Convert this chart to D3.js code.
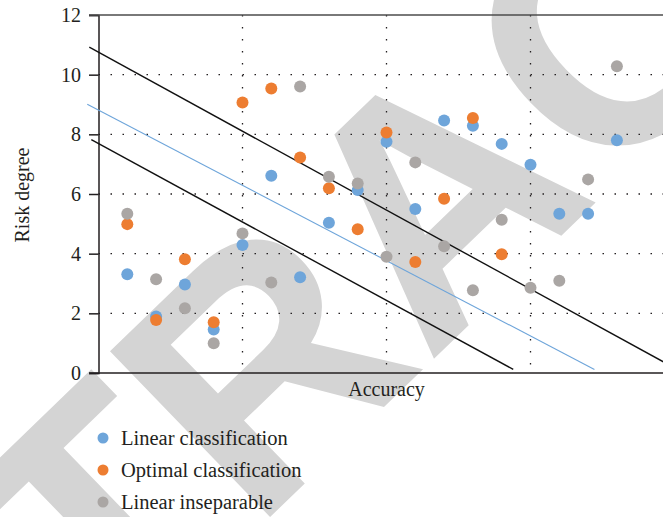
<!DOCTYPE html>
<html>
<head>
<meta charset="utf-8">
<script src="https://cdn.jsdelivr.net/npm/d3@7"></script>
<style>
    body { margin: 0; background: white; }
    text { font-family: "Liberation Serif", "Times New Roman", serif; fill: #231f20; }
</style>
</head>
<body>
<script>
//Global variables
const width = 663;
const height = 517;
const plotLeft = 98.5;
const plotTop = 15;
const plotBottom = 373;

//Data (x position = sample number)
const samples = [1, 2, 3, 4, 5, 6, 7, 8, 9, 10, 11, 12, 13, 14, 15, 16, 17, 18];
const linearClass = [3.31, 1.89, 2.97, 1.46, 4.29, 6.61, 3.21, 5.04, 6.13, 7.75, 5.50, 8.46, 8.29, 7.68, 6.98, 5.34, 5.34, 7.80];
const optimalClass = [4.99, 1.78, 3.81, 1.70, 9.07, 9.54, 7.22, 6.19, 4.82, 8.06, 3.72, 5.84, 8.55, 3.98];
const inseparable = [5.34, 3.14, 2.17, 1.00, 4.68, 3.03, 9.60, 6.58, 6.35, 3.90, 7.06, 4.25, 2.77, 5.14, 2.86, 3.09, 6.49, 10.28];

//Separating lines, endpoints in data units
const upperLine = [[-0.32, 10.92], [20, 0.17]];
const middleLine = [[-0.39, 9.01], [17.22, 0.12]];
const lowerLine = [[-0.25, 7.82], [14.40, 0.12]];

const yTicks = [0, 2, 4, 6, 8, 10, 12];
const xGrid = [5, 10, 15];
const seriesNames = ["Linear classification", "Optimal classification", "Linear inseparable"];
const colors = ["#6ea5da", "#ed7d31", "#aaa6a4"];

//SVG element
const svg = d3.select("body")
    .append("svg")
    .attr("width", width)
    .attr("height", height);

svg.append("rect")
    .attr("width", width)
    .attr("height", height)
    .attr("fill", "white");

//Scales
const x = d3.scaleLinear().domain([0, 20]).range([plotLeft, plotLeft + 576]);
const y = d3.scaleLinear().domain([0, 12]).range([plotBottom, plotTop]);

//Watermark behind everything
svg.append("g")
    .attr("transform", "translate(515,280.5) rotate(-44)")
    .append("text")
    .attr("text-anchor", "middle")
    .style("font-family", "Liberation Sans, Arial, sans-serif")
    .style("font-weight", "bold")
    .style("font-size", "335px")
    .style("fill", "#d4d4d4")
    .text("RETRACTED");

//Dotted grid
svg.append("g")
    .selectAll("line")
    .data(yTicks.filter(d => d > 0 && d < 12))
    .enter()
    .append("line")
    .attr("x1", plotLeft)
    .attr("x2", width)
    .attr("y1", d => y(d))
    .attr("y2", d => y(d))
    .attr("stroke", "#231f20")
    .attr("stroke-width", 1.3)
    .attr("stroke-dasharray", "1.5,10.5");

svg.append("g")
    .selectAll("line")
    .data(xGrid)
    .enter()
    .append("line")
    .attr("x1", d => x(d))
    .attr("x2", d => x(d))
    .attr("y1", plotTop)
    .attr("y2", plotBottom)
    .attr("stroke", "#231f20")
    .attr("stroke-width", 1.3)
    .attr("stroke-dasharray", "1.5,10.5");

//Axes
const yAxis = d3.axisLeft(y)
    .tickValues(yTicks)
    .tickSize(9.5)
    .tickPadding(8);

const yg = svg.append("g")
    .attr("transform", `translate(${plotLeft},0)`)
    .call(yAxis);
yg.select(".domain").attr("stroke", "#231f20").attr("stroke-width", 1.5);
yg.selectAll(".tick line").attr("stroke", "#231f20").attr("stroke-width", 1.5);
yg.selectAll(".tick text")
    .style("font-size", "20px")
    .style("font-family", "Liberation Serif, serif")
    .attr("fill", "#231f20");

//Top border and x axis line
[12, 0].forEach(v => {
    svg.append("line")
        .attr("x1", plotLeft - 9.5)
        .attr("x2", width)
        .attr("y1", y(v))
        .attr("y2", y(v))
        .attr("stroke", v === 0 ? "#231f20" : "#4d4d4d")
        .attr("stroke-width", 1.5);
});

//Lines
const line = d3.line().x(d => x(d[0])).y(d => y(d[1]));
[[upperLine, "#111", 1.4], [middleLine, "#6ea5da", 1.1], [lowerLine, "#111", 1.4]].forEach(l => {
    svg.append("path")
        .attr("d", line(l[0]))
        .attr("fill", "none")
        .attr("stroke", l[1])
        .attr("stroke-width", l[2]);
});

//Points
[linearClass, optimalClass, inseparable].forEach((series, i) => {
    svg.append("g")
        .selectAll("circle")
        .data(series)
        .enter()
        .append("circle")
        .attr("cx", (d, j) => x(samples[j]))
        .attr("cy", d => y(d))
        .attr("r", 6)
        .attr("fill", colors[i]);
});

//Axis titles
svg.append("text")
    .attr("x", x(10))
    .attr("y", 396)
    .attr("text-anchor", "middle")
    .style("font-size", "20px")
    .text("Accuracy");

svg.append("text")
    .attr("transform", "translate(29,195) rotate(-90)")
    .attr("text-anchor", "middle")
    .style("font-size", "20px")
    .text("Risk degree");

//Legend
const legend = svg.append("g")
    .selectAll("g")
    .data(seriesNames)
    .enter()
    .append("g")
    .attr("transform", (d, i) => `translate(103,${438 + i * 32})`);

legend.append("circle")
    .attr("r", 5.5)
    .attr("fill", (d, i) => colors[i]);

legend.append("text")
    .attr("x", 18)
    .attr("dy", "0.33em")
    .style("font-size", "20.5px")
    .text(d => d);
</script>
</body>
</html>
